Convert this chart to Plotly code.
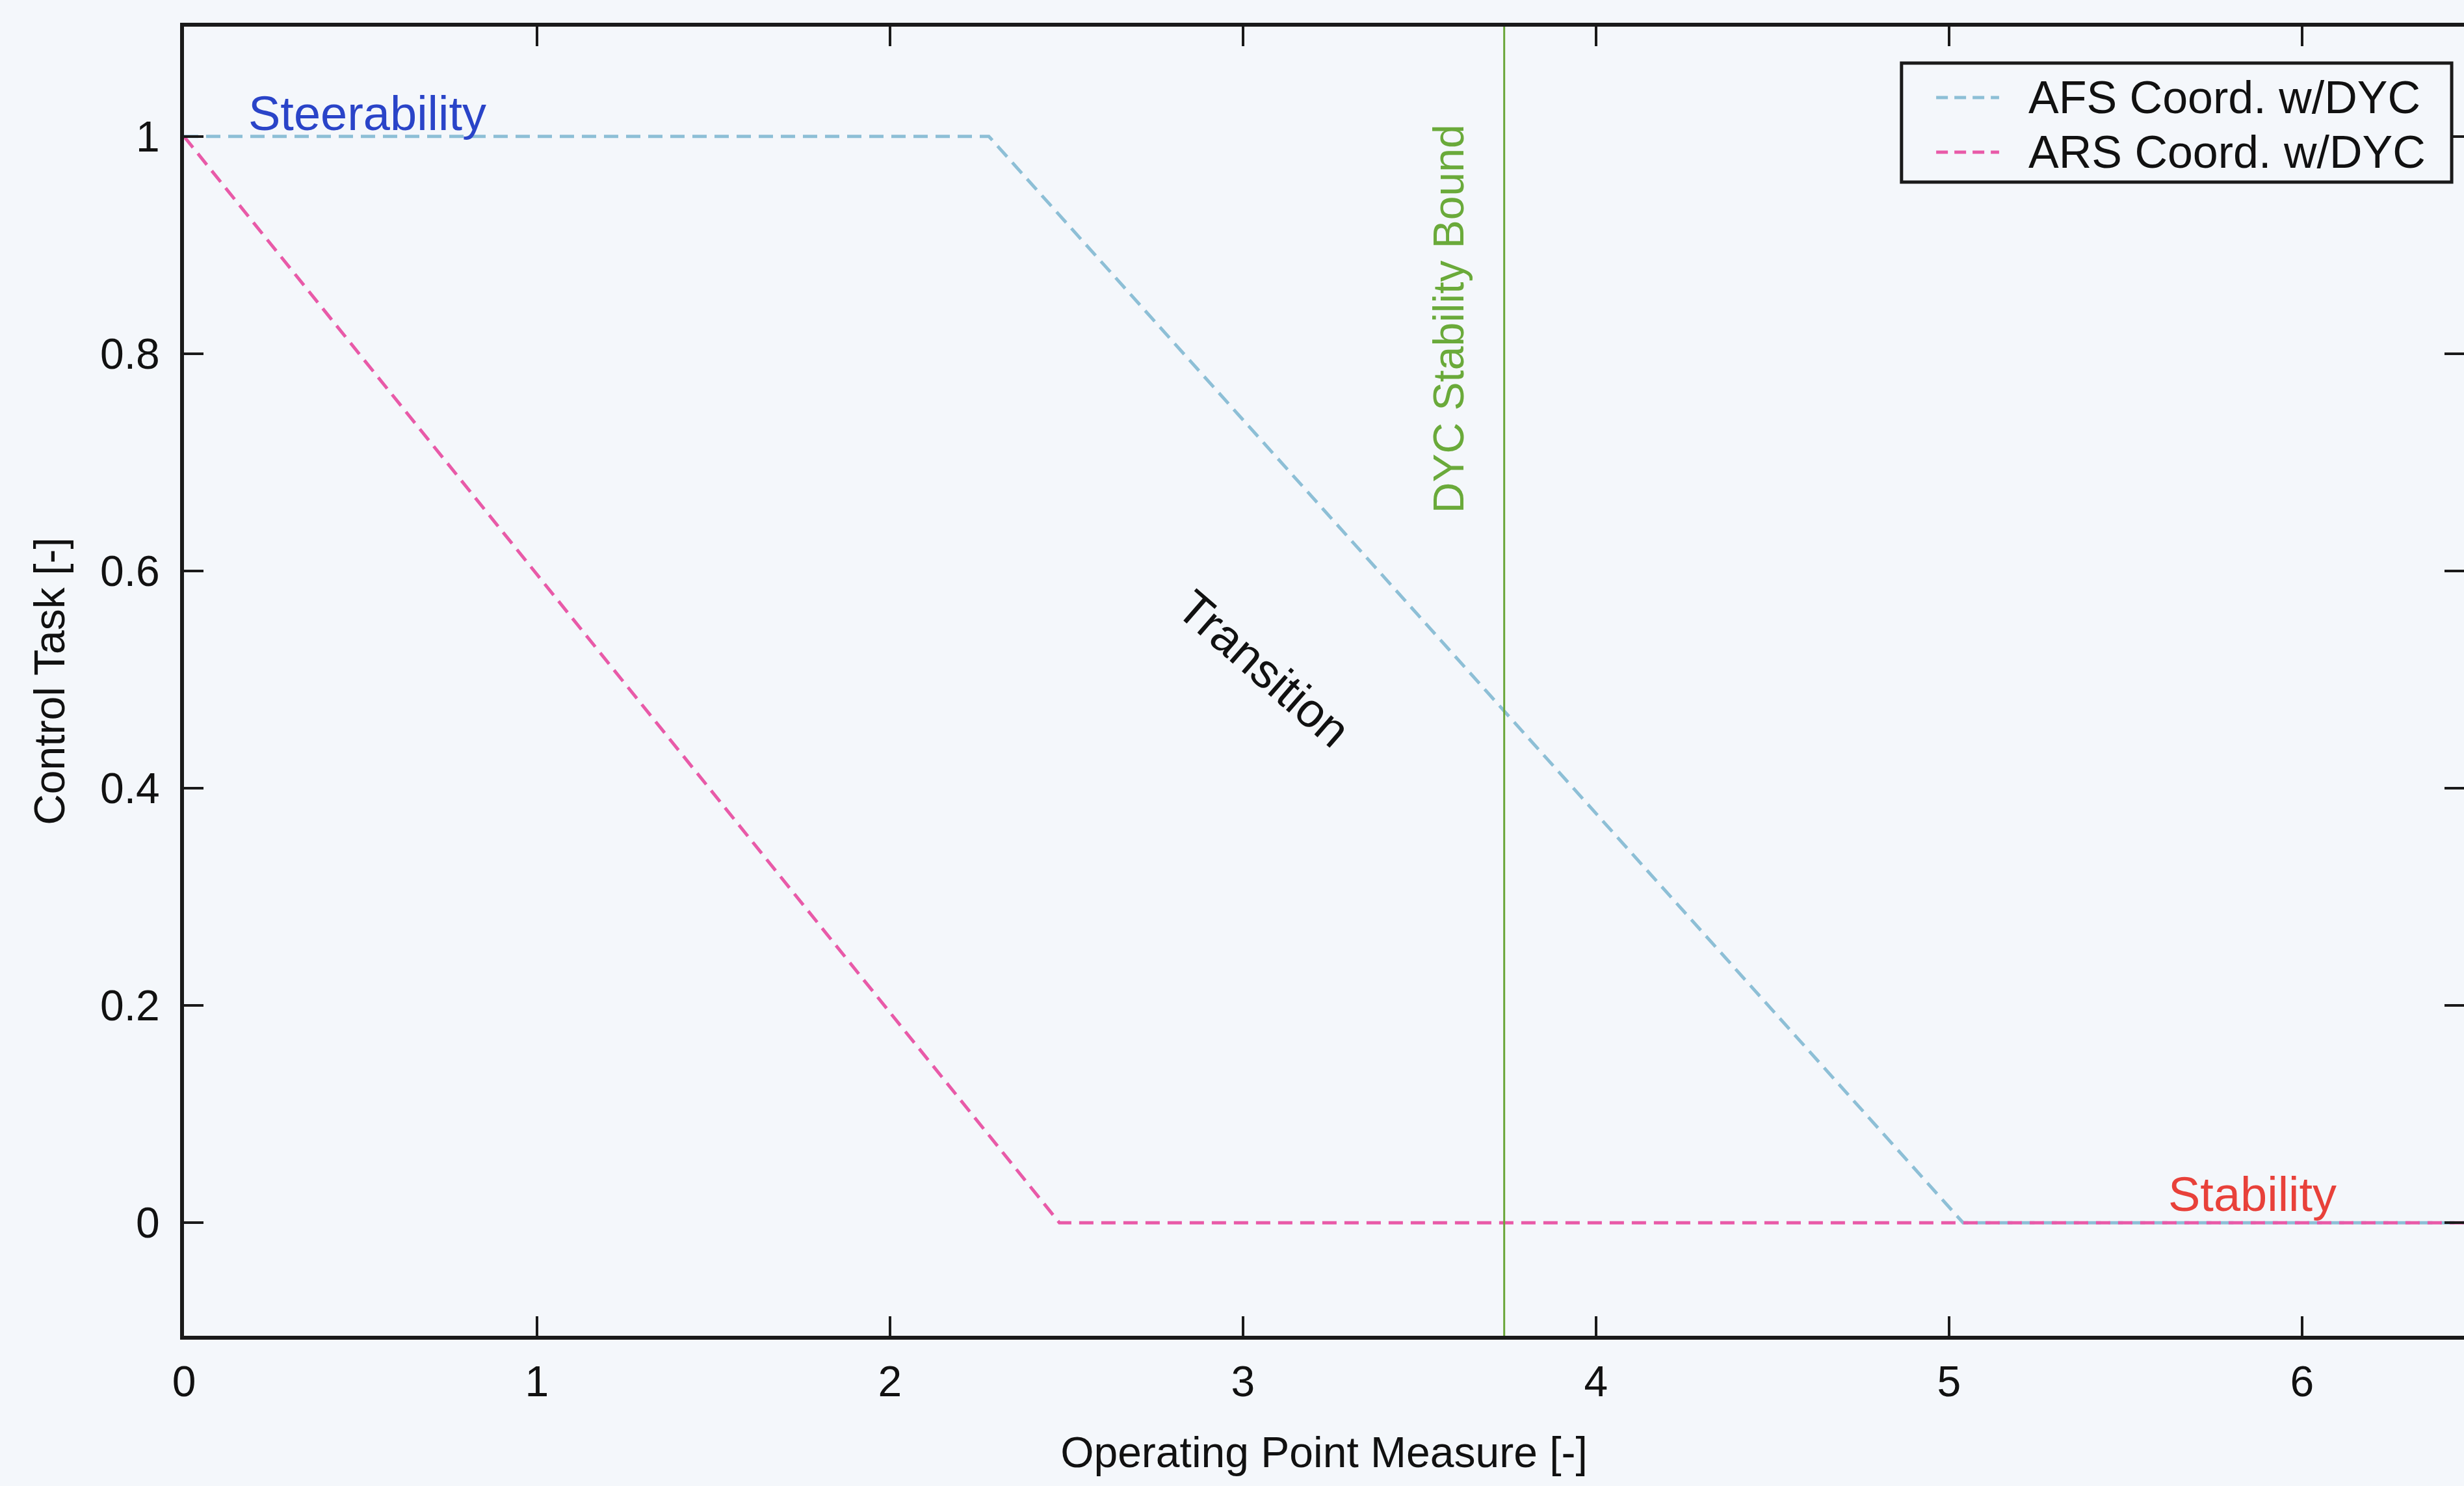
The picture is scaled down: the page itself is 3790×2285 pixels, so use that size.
import plotly.graph_objects as go

# ---- data ----
afs_x = [0.0, 2.28, 5.04, 7.0]
afs_y = [1.0, 1.0, 0.0, 0.0]
ars_x = [0.0, 2.48, 7.0]
ars_y = [1.0, 0.0, 0.0]
dyc_bound_x = 3.74

x_ticks = [0, 1, 2, 3, 4, 5, 6]
x_tick_labels = ["0", "1", "2", "3", "4", "5", "6"]
y_ticks = [0, 0.2, 0.4, 0.6, 0.8, 1.0]
y_tick_labels = ["0", "0.2", "0.4", "0.6", "0.8", "1"]

series_names = ["AFS Coord. w/DYC", "ARS Coord. w/DYC"]
series_colors = ["#8dbfd6", "#e85aa8"]

FONT = "Liberation Sans, Arial, Helvetica, sans-serif"
BG = "#f4f7fb"
AXC = "#1a1a1a"
DASH = "22px,12px"
Y_RANGE = [-0.104, 1.101]

fig = go.Figure()
fig.add_trace(go.Scatter(x=afs_x, y=afs_y, mode="lines", name=series_names[0], showlegend=False,
                         line=dict(color=series_colors[0], width=5, dash=DASH)))
fig.add_trace(go.Scatter(x=ars_x, y=ars_y, mode="lines", name=series_names[1], showlegend=False,
                         line=dict(color=series_colors[1], width=5, dash=DASH)))
fig.add_trace(go.Scatter(x=[dyc_bound_x, dyc_bound_x], y=[-0.2, 1.3], mode="lines", yaxis="y2",
                         name="DYC Stability Bound", showlegend=False,
                         line=dict(color="#6aa63a", width=3)))

fig.add_annotation(x=0.52, y=1.021, text="Steerability", showarrow=False,
                   font=dict(family=FONT, size=74, color="#2a44c8"))
fig.add_annotation(x=5.86, y=0.026, text="Stability", showarrow=False,
                   font=dict(family=FONT, size=74, color="#e8413a"))
fig.add_annotation(x=3.06, y=0.51, text="Transition", showarrow=False, textangle=41,
                   font=dict(family=FONT, size=74, color="#111111"))
fig.add_annotation(x=3.582, y=0.832, text="DYC Stability Bound", showarrow=False, textangle=-90,
                   font=dict(family=FONT, size=66, color="#6aaa3a"))

# ---- legend box (drawn to match the reference's long line samples) ----
fig.add_shape(type="rect", xref="paper", yref="paper", x0=0.7533, x1=0.9946, y0=0.8813, y1=0.9722,
              line=dict(color=AXC, width=5), fillcolor=BG, layer="above")
legend_rows_y = [0.9458, 0.9041]
for name, color, ry in zip(series_names, series_colors, legend_rows_y):
    fig.add_shape(type="line", xref="paper", yref="paper", x0=0.7685, x1=0.7961, y0=ry, y1=ry,
                  line=dict(color=color, width=5, dash="18px,10px"), layer="above")
    fig.add_annotation(xref="paper", yref="paper", x=0.8084, y=ry, xanchor="left", yanchor="middle",
                       text=name, showarrow=False,
                       font=dict(family=FONT, size=70, color="#111111"))

fig.update_layout(
    width=3790, height=2285,
    margin=dict(l=283, r=0, t=41, b=231),
    paper_bgcolor=BG, plot_bgcolor=BG,
    font=dict(family=FONT, size=66, color="#111111"),
    showlegend=False,
    xaxis=dict(range=[0, 6.459], tickvals=x_ticks, ticktext=x_tick_labels,
               showgrid=False, zeroline=False, showline=True, linecolor=AXC, linewidth=6,
               mirror="ticks", ticks="inside", ticklen=30, tickwidth=4, tickcolor=AXC,
               ticklabelstandoff=8,
               title=dict(text="Operating Point Measure [-]", standoff=52,
                          font=dict(family=FONT, size=66))),
    yaxis=dict(range=Y_RANGE, tickvals=y_ticks, ticktext=y_tick_labels,
               showgrid=False, zeroline=False, showline=True, linecolor=AXC, linewidth=6,
               mirror=False, ticks="inside", ticklen=30, tickwidth=4, tickcolor=AXC,
               ticklabelstandoff=18,
               title=dict(text="Control Task [-]", standoff=35,
                          font=dict(family=FONT, size=66))),
    yaxis2=dict(range=Y_RANGE, overlaying="y", side="right", tickvals=y_ticks,
                showticklabels=False, showgrid=False, zeroline=False, showline=False,
                ticks="inside", ticklen=30, tickwidth=4, tickcolor=AXC),
)

fig.write_html("out.html", config={"displayModeBar": False},
               post_script="document.body.style.margin='0';document.body.style.background='%s';" % BG)
